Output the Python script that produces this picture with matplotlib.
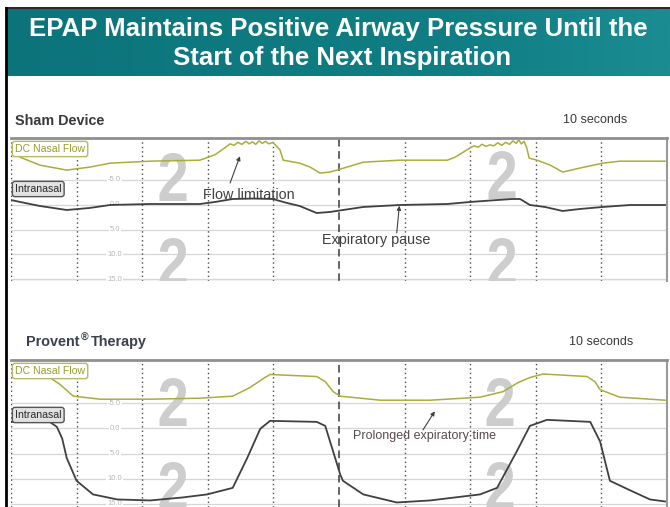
import numpy as np
import matplotlib
matplotlib.use('Agg')
import matplotlib.pyplot as plt
from matplotlib.textpath import TextPath
from matplotlib.font_manager import FontProperties
from matplotlib.patches import PathPatch
from matplotlib.transforms import Affine2D, IdentityTransform

plt.rcParams['font.family'] = ['Liberation Sans', 'DejaVu Sans']

# данные (время в делениях по 1 с, давление в см вод. ст., ось Y перевернута)
sham_t = [0.00, 0.05, 0.14, 0.44, 0.85, 1.20, 1.51, 2.12, 2.88, 3.11, 3.26, 3.34, 3.40, 3.46,
          3.52, 3.58, 3.63, 3.68, 3.73, 3.78, 3.83, 3.88, 3.93, 3.99, 4.10, 4.15, 4.40, 4.56,
          4.71, 4.86, 4.97, 5.37, 5.93, 6.65, 6.77, 7.00, 7.06, 7.12, 7.18, 7.24, 7.30, 7.36,
          7.42, 7.48, 7.54, 7.60, 7.65, 7.70, 7.74, 7.78, 7.82, 7.86, 7.90, 8.02, 8.22, 8.41,
          8.67, 9.02, 9.28, 9.97]
sham_flow = [-11.7, -11.1, -9.6, -8.0, -7.0, -7.6, -8.4, -8.8, -9.0, -10.1, -11.5, -12.3, -12.0,
             -12.6, -12.2, -12.8, -12.3, -12.7, -12.2, -12.9, -12.4, -12.8, -12.3, -12.6, -11.1,
             -9.0, -8.4, -7.6, -6.4, -6.6, -7.0, -8.6, -9.0, -9.0, -9.6, -11.5, -11.9, -11.6,
             -12.2, -11.8, -12.1, -11.9, -12.5, -12.0, -12.6, -12.2, -12.9, -12.4, -13.1, -12.3,
             -12.8, -11.6, -9.4, -9.0, -8.0, -6.6, -7.4, -8.4, -8.8, -8.8]

sham_pt = [0.00, 0.14, 0.44, 0.85, 1.20, 1.51, 2.12, 2.88, 3.11, 3.38, 3.70, 3.99, 4.21, 4.40,
           4.66, 4.86, 5.37, 5.93, 6.65, 7.00, 7.30, 7.64, 7.76, 7.91, 8.14, 8.41, 8.67, 9.02,
           9.44, 9.97]
sham_nasal = [-0.96, -0.56, 0.25, 1.06, 0.65, 0.05, -0.15, -0.15, -0.56, -1.16, -1.25, -1.16,
              -0.35, 0.25, 1.67, 1.46, 0.45, 0.05, -0.15, -0.56, -0.85, -1.16, -1.16, 0.05, 0.45,
              1.26, 0.86, 0.45, 0.05, 0.05]

prov_t = [0.00, 0.59, 0.75, 0.95, 1.36, 2.12, 2.88, 3.38, 3.64, 3.87, 3.95, 4.66, 4.79, 4.91,
          5.02, 5.63, 6.39, 7.15, 7.50, 7.73, 7.91, 8.11, 8.78, 8.90, 8.98, 9.28, 9.97]
prov_flow = [-11.0, -10.1, -8.7, -6.4, -5.8, -5.8, -6.0, -6.4, -8.1, -10.1, -10.7, -10.3, -9.3,
             -7.3, -6.4, -5.6, -5.6, -6.2, -7.3, -9.1, -10.1, -10.8, -10.3, -9.3, -7.7, -6.2,
             -5.6]

prov_pt = [0.00, 0.59, 0.70, 0.78, 0.85, 1.00, 1.25, 1.62, 2.12, 2.62, 2.99, 3.38, 3.60, 3.80,
           3.95, 4.66, 4.79, 4.91, 5.02, 5.06, 5.37, 5.88, 6.39, 7.15, 7.41, 7.71, 7.91, 8.17,
           8.83, 8.98, 9.13, 9.44, 9.74, 9.97]
prov_nasal = [-1.3, -1.3, -0.3, 2.0, 5.9, 10.4, 13.1, 14.1, 14.3, 13.7, 13.1, 11.8, 5.9, 0.07,
              -1.5, -1.3, -0.5, 4.55, 9.2, 10.4, 13.1, 14.7, 14.3, 13.1, 11.8, 4.55, -0.5, -1.7,
              -1.3, 2.6, 10.4, 12.3, 14.1, 14.5]

yticks = [-5, 0, 5, 10, 15]
ytick_labels = ['-5.0', '0.0', '5.0', '10.0', '15.0']

W, H = 670, 507
fig = plt.figure(figsize=(W / 100, H / 100), dpi=100)
fig.patch.set_facecolor('white')


def fx(px):
    return px / W


def fy(py):
    return 1 - py / H


# заголовок-баннер
bax = fig.add_axes([fx(7), fy(76), fx(663), 67 / H])
grad = np.linspace(0, 1, 256).reshape(1, -1)
cmap = matplotlib.colors.LinearSegmentedColormap.from_list(
    'teal', ['#0c737b', '#0e7a80', '#107e84', '#1a8c92'])
bax.imshow(grad, aspect='auto', cmap=cmap, extent=[0, 1, 0, 1])
bax.set_axis_off()
fig.text(0.505, fy(29), 'EPAP Maintains Positive Airway Pressure Until the', color='white',
         fontsize=18.5, fontweight='bold', ha='center', va='center')
fig.text(0.51, fy(58), 'Start of the Next Inspiration', color='white',
         fontsize=18.5, fontweight='bold', ha='center', va='center')

# рамка слайда
fig.add_artist(plt.Line2D([fx(6), fx(6)], [0, fy(8)], color='black', lw=2))
fig.add_artist(plt.Line2D([fx(6), 1], [fy(8), fy(8)], color='black', lw=1.2))

digit_font = FontProperties(family='Liberation Sans', weight='bold')


def add_two(ax, cx, top, height=48, width=27):
    tp = TextPath((0, 0), '2', size=100, prop=digit_font)
    ext = tp.get_extents()
    tr = (Affine2D().translate(-ext.x0, -ext.y0)
          .scale(width / ext.width, height / ext.height)
          .translate(cx - width / 2, H - top - height))
    p = PathPatch(tr.transform_path(tp), facecolor='#cdcdcd', edgecolor='none', zorder=0.5)
    p.set_transform(IdentityTransform())
    ax.add_patch(p)


def make_panel(top_px, bot_px, ymin, ymax, t_f, flow, t_p, nasal, twos):
    ax = fig.add_axes([fx(11), fy(bot_px), fx(656), (bot_px - top_px) / H])
    ax.set_xlim(0, 10)
    ax.set_ylim(ymax, ymin)
    ax.set_xticks([])
    ax.set_yticks([])
    for s in ['left', 'bottom']:
        ax.spines[s].set_visible(False)
    ax.spines['top'].set_color('#8f8f8f')
    ax.spines['top'].set_linewidth(2)
    ax.spines['right'].set_color('#9a9a9a')
    ax.spines['right'].set_linewidth(1.5)
    for yv, lab in zip(yticks, ytick_labels):
        ax.axhline(yv, color='#d6d6d6', lw=0.9, zorder=0.3)
        ax.text(1.58, yv, lab, fontsize=5.5, color='#b8b8b8', ha='center', va='center', zorder=0.6,
                bbox=dict(facecolor='white', edgecolor='none', pad=0.6))
    for cx, top in twos:
        add_two(ax, cx, top)
    for xv in range(0, 10):
        if xv == 5:
            ax.axvline(xv, color='#3a3a3a', lw=1.1, ls=(0, (5, 3)), zorder=1)
        else:
            ax.axvline(xv, color='#4a4a4a', lw=1.0, ls=(0, (1, 2.2)), zorder=1)
    ax.plot(t_f, flow, color='#aaad3c', lw=1.1, zorder=3)
    ax.plot(t_p, nasal, color='#404040', lw=1.3, zorder=3)
    return ax


sham_ax = make_panel(138, 281, -13.48, 15.4, sham_t, sham_flow, sham_pt, sham_nasal,
                     [(173, 153), (173, 238), (502, 151), (502, 238)])
sham_ax.axhline(15.4, color='#d0d0d0', lw=1)
prov_ax = make_panel(360, 507, -13.58, 15.6, prov_t, prov_flow, prov_pt, prov_nasal,
                     [(173, 378), (173, 462), (500, 378), (500, 462)])

# подписи панелей
fig.text(fx(15), fy(121), 'Sham Device', fontsize=10.4, fontweight='bold', color='#3a3a3a',
         va='center')
fig.text(fx(563), fy(120), '10 seconds', fontsize=9, color='#3a3a3a', va='center')

# Provent® Therapy: знак ® отдельным маленьким текстом
renderer = fig.canvas.get_renderer()
p1 = fig.text(fx(26), fy(342), 'Provent', fontsize=10.4, fontweight='bold', color='#3c4150',
              va='center')
x1 = p1.get_window_extent(renderer).x1
p2 = fig.text((x1 + 1) / W, fy(338), '®', fontsize=7.5, fontweight='bold', color='#3c4150',
              va='center')
x2 = p2.get_window_extent(renderer).x1
fig.text((x2 + 3) / W, fy(342), 'Therapy', fontsize=10.4, fontweight='bold', color='#3c4150',
         va='center')
fig.text(fx(569), fy(342), '10 seconds', fontsize=9, color='#3a3a3a', va='center')

# метки каналов
for top in (149, 371):
    fig.text(fx(15), fy(top), 'DC Nasal Flow', fontsize=7.6, color='#9a9d2c', va='center',
             bbox=dict(boxstyle='round,pad=0.25', facecolor='white', edgecolor='#b5b86a', lw=1))
for top in (189, 415):
    fig.text(fx(15), fy(top), 'Intranasal', fontsize=7.6, color='#2a2a2a', va='center',
             bbox=dict(boxstyle='round,pad=0.25', facecolor='#e2e2e2', edgecolor='#555555', lw=1))

# аннотации
arrow = dict(arrowstyle='-|>', color='#404040', lw=0.8, mutation_scale=6, shrinkA=0, shrinkB=0)
sham_ax.text(3.63, -1.9, 'Flow limitation', fontsize=10.4, color='#404040', ha='center',
             va='center')
sham_ax.annotate('', xy=(3.49, -9.8), xytext=(3.34, -4.4), arrowprops=arrow)
sham_ax.text(5.56, 7.2, 'Expiratory pause', fontsize=10.4, color='#404040', ha='center',
             va='center')
sham_ax.annotate('', xy=(5.92, 0.2), xytext=(5.88, 5.7), arrowprops=arrow)
prov_ax.text(6.31, 1.5, 'Prolonged expiratory time', fontsize=9, color='#5a4a4e', ha='center',
             va='center')
prov_ax.annotate('', xy=(6.46, -3.4), xytext=(6.28, 0.3), arrowprops=arrow)

fig.savefig('out.png', dpi=100)
